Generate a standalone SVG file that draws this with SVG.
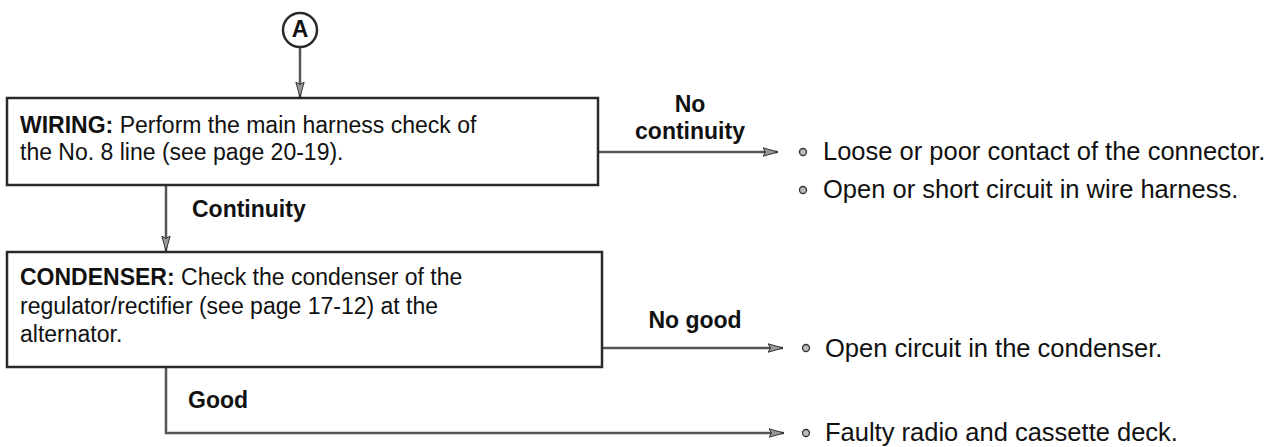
<svg xmlns="http://www.w3.org/2000/svg" width="1276" height="447" viewBox="0 0 1276 447">
<style>
.box{fill:#fff;stroke:#2a2a2a;stroke-width:2.5}
.ln{fill:none;stroke:#555;stroke-width:2.5}
.t{font-family:"Liberation Sans",Arial,sans-serif;font-size:23px;fill:#111}
.r{font-family:"Liberation Sans",Arial,sans-serif;font-size:25.5px;fill:#111}
.b{font-weight:bold}
.bul{fill:#bbb;stroke:#333;stroke-width:1.3}
</style>
<defs>
<marker id="ah" viewBox="0 0 16 10" refX="15.5" refY="5" markerWidth="16" markerHeight="10" markerUnits="userSpaceOnUse" orient="auto">
<path d="M0.5,0.8 L15.5,5 L0.5,9.2 L3,5 Z" fill="#999" stroke="#333" stroke-width="1"/>
</marker>
</defs>
<g id="connectors">
<line class="ln" x1="300" y1="47" x2="300" y2="97" marker-end="url(#ah)"/>
<line class="ln" x1="598" y1="152" x2="778" y2="152" marker-end="url(#ah)"/>
<line class="ln" x1="166" y1="186" x2="166" y2="251" marker-end="url(#ah)"/>
<line class="ln" x1="602" y1="348" x2="783" y2="348" marker-end="url(#ah)"/>
<polyline class="ln" points="166,367 166,433 784,433" marker-end="url(#ah)"/>
<text class="t b" x="690" y="112" text-anchor="middle">No</text>
<text class="t b" x="690" y="139" text-anchor="middle">continuity</text>
<text class="t b" x="192" y="217">Continuity</text>
<text class="t b" x="695" y="328" text-anchor="middle">No good</text>
<text class="t b" x="188" y="408">Good</text>
</g>
<g id="nodeA">
<circle cx="300" cy="30" r="17" fill="#fff" stroke="#2a2a2a" stroke-width="2.5"/>
<text class="t b" x="300" y="36.5" text-anchor="middle" font-size="17">A</text>
</g>
<g id="wiring">
<rect class="box" x="7" y="98" width="591" height="87"/>
<text class="t" x="20" y="133"><tspan class="b">WIRING:</tspan> Perform the main harness check of</text>
<text class="t" x="20" y="160">the No. 8 line (see page 20-19).</text>
</g>
<g id="condenser">
<rect class="box" x="7" y="252" width="595" height="115"/>
<text class="t" x="20" y="285"><tspan class="b">CONDENSER:</tspan> Check the condenser of the</text>
<text class="t" x="20" y="314">regulator/rectifier (see page 17-12) at the</text>
<text class="t" x="20" y="342">alternator.</text>
</g>
<g id="result1">
<circle class="bul" cx="803" cy="152" r="3.5"/>
<text class="r" x="823" y="160">Loose or poor contact of the connector.</text>
<circle class="bul" cx="803" cy="190" r="3.5"/>
<text class="r" x="823" y="198">Open or short circuit in wire harness.</text>
</g>
<g id="result2">
<circle class="bul" cx="806" cy="348" r="3.5"/>
<text class="r" x="825" y="357">Open circuit in the condenser.</text>
</g>
<g id="result3">
<circle class="bul" cx="806" cy="433" r="3.5"/>
<text class="r" x="825" y="441">Faulty radio and cassette deck.</text>
</g>
</svg>
